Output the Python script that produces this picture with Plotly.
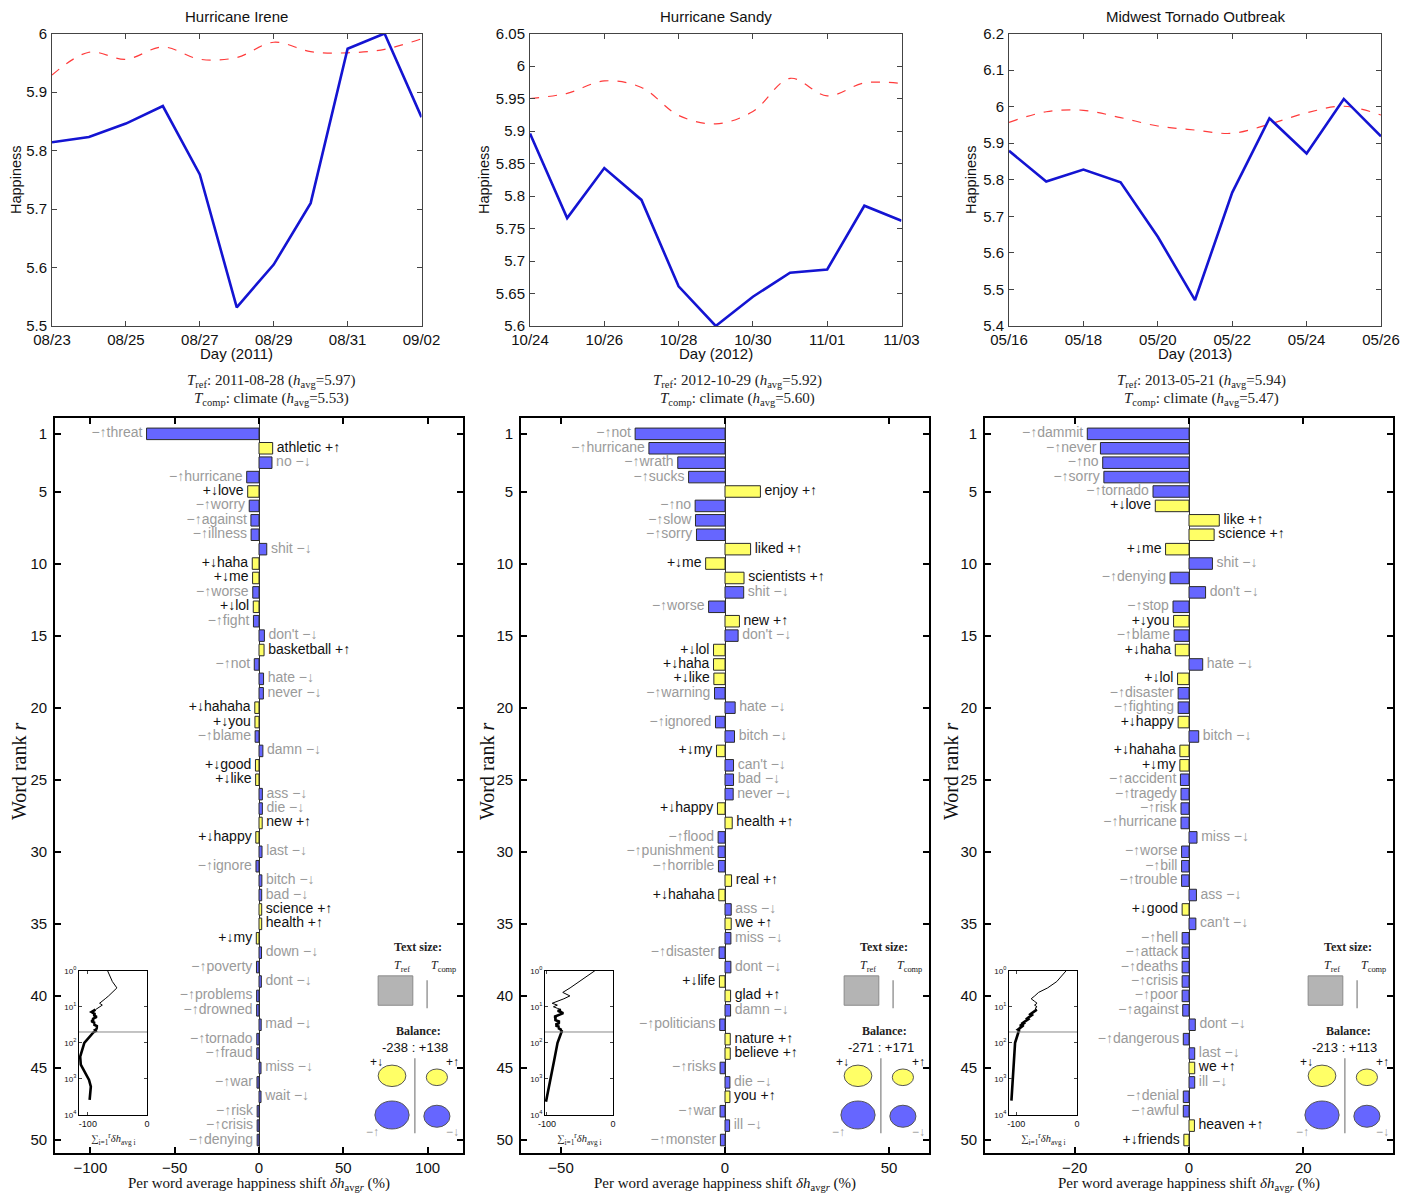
import numpy as np
import plotly.graph_objects as go

# page body has an 8px margin: compensate so reference pixel positions line up
OFF = 8
W, H = 1413 - 2 * OFF, 1202 - 2 * OFF
def px(x): return (x - OFF) / W
def py(y): return 1 - (y - OFF) / H

SANS = "Liberation Sans, Arial, sans-serif"
SERIF = "Liberation Serif, DejaVu Serif, serif"

# ---------------- top row: daily happiness time series ----------------
irene_days = ["2011-08-23", "2011-08-24", "2011-08-25", "2011-08-26", "2011-08-27", "2011-08-28",
              "2011-08-29", "2011-08-30", "2011-08-31", "2011-09-01", "2011-09-02"]
irene_event = [5.814, 5.823, 5.846, 5.876, 5.759, 5.532, 5.605, 5.710, 5.974, 6.000, 5.857]
irene_climate = [5.929, 5.968, 5.956, 5.977, 5.956, 5.959, 5.985, 5.969, 5.967, 5.973, 5.991]

sandy_days = ["2012-10-24", "2012-10-25", "2012-10-26", "2012-10-27", "2012-10-28", "2012-10-29",
              "2012-10-30", "2012-10-31", "2012-11-01", "2012-11-02", "2012-11-03"]
sandy_event = [5.896, 5.766, 5.843, 5.794, 5.661, 5.600, 5.645, 5.682, 5.687, 5.785, 5.762]
sandy_climate = [5.950, 5.958, 5.977, 5.967, 5.924, 5.911, 5.930, 5.981, 5.954, 5.974, 5.973]

tornado_days = ["2013-05-16", "2013-05-17", "2013-05-18", "2013-05-19", "2013-05-20", "2013-05-21",
                "2013-05-22", "2013-05-23", "2013-05-24", "2013-05-25", "2013-05-26"]
tornado_event = [5.879, 5.795, 5.828, 5.793, 5.644, 5.471, 5.765, 5.968, 5.872, 6.021, 5.919]
tornado_climate = [5.957, 5.986, 5.990, 5.970, 5.947, 5.936, 5.927, 5.952, 5.983, 6.001, 5.977]

event_titles = ["Hurricane Irene", "Hurricane Sandy", "Midwest Tornado Outbreak"]
event_years = ["2011", "2012", "2013"]
irene_yticks = [5.5, 5.6, 5.7, 5.8, 5.9, 6.0]
sandy_yticks = [5.6, 5.65, 5.7, 5.75, 5.8, 5.85, 5.9, 5.95, 6.0, 6.05]
tornado_yticks = [5.4, 5.5, 5.6, 5.7, 5.8, 5.9, 6.0, 6.1, 6.2]

# ---------------- bottom row: word shifts ----------------
tref_dates = ["2011-08-28", "2012-10-29", "2013-05-21"]
tref_havg = [5.97, 5.92, 5.94]
tcomp_havg = [5.53, 5.60, 5.47]
balance_neg = [-238, -271, -213]
balance_pos = [138, 171, 113]

irene_words = ["threat", "athletic", "no", "hurricane", "love", "worry", "against", "illness", "shit", "haha",
               "me", "worse", "lol", "fight", "don't", "basketball", "not", "hate", "never", "hahaha",
               "you", "blame", "damn", "good", "like", "ass", "die", "new", "happy", "last",
               "ignore", "bitch", "bad", "science", "health", "my", "down", "poverty", "dont", "problems",
               "drowned", "mad", "tornado", "fraud", "miss", "war", "wait", "risk", "crisis", "denying"]
irene_shift = [-66.7, 8.1, 7.7, -7.3, -6.7, -5.8, -4.8, -4.7, 4.6, -4.0,
               -3.8, -3.7, -3.4, -3.3, 3.2, 3.0, -2.8, 2.7, 2.6, -2.5,
               -2.4, -2.3, 2.3, -2.1, -2.0, 2.0, 2.0, 1.9, -1.9, 1.8,
               -1.8, 1.7, 1.6, 1.6, 1.6, -1.6, 1.5, -1.5, 1.4, -1.4,
               -1.4, 1.3, -1.3, -1.3, 1.2, -1.2, 1.2, -1.1, -1.1, -1.1]
irene_kind = ["-", "+", "-", "-", "+", "-", "-", "-", "-", "+",
              "+", "-", "+", "-", "-", "+", "-", "-", "-", "+",
              "+", "-", "-", "+", "+", "-", "-", "+", "+", "-",
              "-", "-", "-", "+", "+", "+", "-", "-", "-", "-",
              "-", "-", "-", "-", "-", "-", "-", "-", "-", "-"]

sandy_words = ["not", "hurricane", "wrath", "sucks", "enjoy", "no", "slow", "sorry", "liked", "me",
               "scientists", "shit", "worse", "new", "don't", "lol", "haha", "like", "warning", "hate",
               "ignored", "bitch", "my", "can't", "bad", "never", "happy", "health", "flood", "punishment",
               "horrible", "real", "hahaha", "ass", "we", "miss", "disaster", "dont", "life", "glad",
               "damn", "politicians", "nature", "believe", "risks", "die", "you", "war", "ill", "monster"]
sandy_shift = [-27.4, -23.2, -14.4, -11.1, 10.8, -9.1, -9.0, -8.7, 7.8, -5.9,
               5.8, 5.7, -5.0, 4.4, 4.0, -3.5, -3.5, -3.4, -3.2, 3.1,
               -2.9, 2.9, -2.6, 2.6, 2.6, 2.5, -2.3, 2.2, -2.1, -2.1,
               -2.0, 2.0, -1.9, 1.9, 1.9, 1.8, -1.8, 1.8, -1.7, 1.7,
               1.7, -1.6, 1.6, 1.6, -1.5, 1.5, 1.5, -1.5, 1.4, -1.4]
sandy_kind = ["-", "-", "-", "-", "+", "-", "-", "-", "+", "+",
              "+", "-", "-", "+", "-", "+", "+", "+", "-", "-",
              "-", "-", "+", "-", "-", "-", "+", "+", "-", "-",
              "-", "+", "+", "-", "+", "-", "-", "-", "+", "+",
              "-", "-", "+", "+", "-", "-", "+", "-", "-", "-"]

tornado_words = ["dammit", "never", "no", "sorry", "tornado", "love", "like", "science", "me", "shit",
                 "denying", "don't", "stop", "you", "blame", "haha", "hate", "lol", "disaster", "fighting",
                 "happy", "bitch", "hahaha", "my", "accident", "tragedy", "risk", "hurricane", "miss", "worse",
                 "bill", "trouble", "ass", "good", "can't", "hell", "attack", "deaths", "crisis", "poor",
                 "against", "dont", "dangerous", "last", "we", "ill", "denial", "awful", "heaven", "friends"]
tornado_shift = [-17.8, -15.5, -15.1, -14.9, -6.3, -5.9, 5.3, 4.4, -4.1, 4.1,
                 -3.3, 2.9, -2.8, -2.7, -2.6, -2.4, 2.4, -2.0, -1.9, -1.9,
                 -1.9, 1.7, -1.6, -1.6, -1.5, -1.4, -1.4, -1.4, 1.4, -1.3,
                 -1.3, -1.3, 1.3, -1.2, 1.2, -1.2, -1.2, -1.2, -1.2, -1.2,
                 -1.1, 1.1, -1.0, 1.0, 1.0, 1.0, -1.0, -1.0, 0.95, -0.9]
tornado_kind = ["-", "-", "-", "-", "-", "+", "+", "+", "+", "-",
                "-", "-", "-", "+", "-", "+", "-", "+", "-", "-",
                "+", "-", "+", "+", "-", "-", "-", "-", "-", "-",
                "-", "-", "-", "+", "-", "-", "-", "-", "-", "-",
                "-", "-", "-", "-", "+", "-", "-", "-", "+", "+"]

# cumulative-shift inset: tail beyond the top 50 words (rank, cumulative %)
irene_tail_rank = [100, 240, 400, 630, 1070, 1630, 3800]
irene_tail_cum = [-106, -113, -112, -106, -98, -95, -97]
sandy_tail_rank = [100, 300, 1000, 4300]
sandy_tail_cum = [-84, -89, -95, -101.5]
tornado_tail_rank = [100, 300, 1000, 4000]
tornado_tail_cum = [-102, -104, -106, -108]

# ---------------- styling ----------------
BLUE = "#6666ff"
YELLOW = "#ffff66"
GRAY_TXT = "#9a9a9a"
BLACK_TXT = "#111111"
LINE_BLUE = "#1414d2"
LINE_RED = "#ff3b3b"

fig = go.Figure()

top_left = [52, 530, 1009]
top_right = [421.5, 901.5, 1381]
happ_x = [16, 484, 971]
top_y0, top_y1 = 33.5, 326

top_sets = [
    (irene_days, irene_event, irene_climate, irene_yticks),
    (sandy_days, sandy_event, sandy_climate, sandy_yticks),
    (tornado_days, tornado_event, tornado_climate, tornado_yticks),
]

annotations = []
shapes = []

def ptext(x, y, t, size, fam=SANS, col="#111", angle=0):
    annotations.append(dict(x=px(x), y=py(y), xref="paper", yref="paper", text=t,
                            showarrow=False, xanchor="center", yanchor="middle",
                            textangle=angle, font=dict(family=fam, size=size, color=col)))

for i, (days, ev, cl, yt) in enumerate(top_sets):
    n = i + 1
    xa, ya = ("x" if n == 1 else f"x{n}"), ("y" if n == 1 else f"y{n}")
    fig.add_trace(go.Scatter(x=days, y=cl, mode="lines", xaxis=xa, yaxis=ya,
                             line=dict(color=LINE_RED, width=1.2, dash="dash", shape="spline"),
                             showlegend=False, hoverinfo="skip"))
    fig.add_trace(go.Scatter(x=days, y=ev, mode="lines", xaxis=xa, yaxis=ya,
                             line=dict(color=LINE_BLUE, width=2.6),
                             showlegend=False, hoverinfo="skip"))
    axis_common = dict(showline=True, linecolor="#444", linewidth=1, mirror="ticks",
                       ticks="inside", ticklen=5, tickcolor="#444", showgrid=False,
                       zeroline=False, automargin=False,
                       tickfont=dict(family=SANS, size=15, color="#111"))
    fig.update_layout(**{
        ("xaxis" if n == 1 else f"xaxis{n}"): dict(
            domain=[px(top_left[i]), px(top_right[i])], anchor=ya, type="date",
            range=[days[0], days[-1]], tick0=days[0], dtick=2 * 86400000,
            tickformat="%m/%d", ticklabelstandoff=0, **axis_common),
        ("yaxis" if n == 1 else f"yaxis{n}"): dict(
            domain=[py(top_y1), py(top_y0)], anchor=xa,
            range=[yt[0], yt[-1]], tickvals=yt, ticktext=[f"{v:g}" for v in yt],
            ticklabelstandoff=1, **axis_common),
    })
    cx = (top_left[i] + top_right[i]) / 2
    ptext(cx, 17, event_titles[i], 15)
    ptext(cx, 353, f"Day ({event_years[i]})", 15)
    ptext(happ_x[i], 180, "Happiness", 14.5, angle=-90)

# ---------------- word shift panels ----------------
bot_left = [55, 521, 985]
BW = 408
bot_top, bot_bot = 418, 1153
bot_xrange = [[-121, 121], [-62.2, 62.2], [-35.7, 35.7]]
bot_xticks = [[-100, -50, 0, 50, 100], [-50, 0, 50], [-20, 0, 20]]
rank_x = [19, 487, 951]
inset_xrange = [[-115, 0], [-103, 0], [-112, 0]]

shift_sets = [
    (irene_words, irene_shift, irene_kind, irene_tail_rank, irene_tail_cum),
    (sandy_words, sandy_shift, sandy_kind, sandy_tail_rank, sandy_tail_cum),
    (tornado_words, tornado_shift, tornado_kind, tornado_tail_rank, tornado_tail_cum),
]

for i, (words, vals, kinds, tail_r, tail_c) in enumerate(shift_sets):
    n = i + 4
    m = i + 7
    xa, ya = f"x{n}", f"y{n}"
    ranks = list(range(1, len(words) + 1))
    bar_colors = [YELLOW if k == "+" else BLUE for k in kinds]
    fig.add_trace(go.Bar(x=vals, y=ranks, orientation="h", xaxis=xa, yaxis=ya, width=0.8,
                         marker=dict(color=bar_colors, line=dict(color="#2a2a2a", width=1)),
                         showlegend=False, hoverinfo="skip"))
    texts, tcolors, tpos = [], [], []
    for w, v, k in zip(words, vals, kinds):
        if v < 0:
            texts.append(("\u2212\u2191" if k == "-" else "+\u2193") + w)
            tpos.append("middle left")
        else:
            texts.append(w + (" \u2212\u2193" if k == "-" else " +\u2191"))
            tpos.append("middle right")
        tcolors.append(GRAY_TXT if k == "-" else BLACK_TXT)
    fig.add_trace(go.Scatter(x=vals, y=ranks, mode="markers+text", text=texts, textposition=tpos,
                             marker=dict(size=5, opacity=0),
                             textfont=dict(family=SANS, size=14, color=tcolors),
                             xaxis=xa, yaxis=ya, cliponaxis=False,
                             showlegend=False, hoverinfo="skip"))
    L = bot_left[i]
    fig.update_layout(**{
        f"xaxis{n}": dict(domain=[px(L), px(L + BW)], anchor=ya, range=bot_xrange[i],
                          tickvals=bot_xticks[i], showline=True, linecolor="black", linewidth=1.6,
                          mirror="ticks", ticks="inside", ticklen=6, tickwidth=1.5, tickcolor="black",
                          showgrid=False, zeroline=True, zerolinecolor="#333", zerolinewidth=1,
                          automargin=False, tickfont=dict(family=SANS, size=15, color="#111")),
        f"yaxis{n}": dict(domain=[py(bot_bot), py(bot_top)], anchor=xa, range=[50.9, -0.1],
                          tickvals=[1, 5, 10, 15, 20, 25, 30, 35, 40, 45, 50],
                          showline=True, linecolor="black", linewidth=1.6,
                          mirror="ticks", ticks="inside", ticklen=6, tickwidth=1.5, tickcolor="black",
                          showgrid=False, zeroline=False, automargin=False, ticklabelstandoff=3,
                          tickfont=dict(family=SANS, size=15, color="#111")),
    })
    cx = L + BW / 2
    ptext(cx + 12, 381,
          f"<i>T</i><sub>ref</sub>: {tref_dates[i]} (<i>h</i><sub>avg</sub>={tref_havg[i]:.2f})",
          15, SERIF, "#222")
    ptext(cx + 12, 399,
          f"<i>T</i><sub>comp</sub>: climate (<i>h</i><sub>avg</sub>={tcomp_havg[i]:.2f})",
          15, SERIF, "#222")
    ptext(rank_x[i], 772, "Word rank <i>r</i>", 20, SERIF, "#111", angle=-90)
    ptext(cx, 1184, "Per word average happiness shift <i>\u03b4h</i><sub>avg<i>r</i></sub> (%)",
          15, SERIF, "#111")

    # legend-like decorations (in panel domain coordinates)
    xd, yd = f"x{n} domain", f"y{n} domain"
    def dtext(x, y, t, size=12, fam=SERIF, col="#222"):
        annotations.append(dict(x=x, y=y, xref=xd, yref=yd, text=t, showarrow=False,
                                xanchor="center", yanchor="middle",
                                font=dict(family=fam, size=size, color=col)))
    dtext(0.890, 0.280, "<b>Text size:</b>", 12)
    dtext(0.850, 0.255, "<i>T</i><sub>ref</sub>", 12)
    dtext(0.951, 0.255, "<i>T</i><sub>comp</sub>", 12)
    dtext(0.892, 0.166, "<b>Balance:</b>", 12)
    dtext(0.882, 0.143, f"{balance_neg[i]} : +{balance_pos[i]}", 13, SANS, "#111")
    dtext(0.789, 0.124, "+\u2193", 12, SANS, "#111")
    dtext(0.975, 0.124, "+\u2191", 12, SANS, "#111")
    dtext(0.779, 0.028, "\u2212\u2191", 12, SANS, GRAY_TXT)
    dtext(0.975, 0.028, "\u2212\u2193", 12, SANS, GRAY_TXT)
    shapes.append(dict(type="rect", xref=xd, yref=yd, x0=0.792, x1=0.877, y0=0.201, y1=0.241,
                       fillcolor="#b4b4b4", line=dict(color="#8a8a8a", width=1)))
    shapes.append(dict(type="line", xref=xd, yref=yd, x0=0.912, x1=0.912, y0=0.197, y1=0.235,
                       line=dict(color="#9a9a9a", width=1.5)))
    shapes.append(dict(type="line", xref=xd, yref=yd, x0=0.882, x1=0.882, y0=0.027, y1=0.129,
                       line=dict(color="#9a9a9a", width=1.5)))
    for (cxx, cyy, rx, ry, col) in [(0.826, 0.105, 0.034, 0.0146, YELLOW),
                                    (0.936, 0.103, 0.026, 0.0113, YELLOW),
                                    (0.826, 0.0517, 0.042, 0.019, BLUE),
                                    (0.936, 0.050, 0.032, 0.015, BLUE)]:
        shapes.append(dict(type="circle", xref=xd, yref=yd, x0=cxx - rx, x1=cxx + rx,
                           y0=cyy - ry, y1=cyy + ry, fillcolor=col,
                           line=dict(color="#555", width=1)))

    # inset: cumulative sum of shifts versus rank (log)
    cum = list(np.cumsum(vals))
    split = 12
    fig.add_trace(go.Scatter(x=cum[:split], y=ranks[:split], mode="lines",
                             xaxis=f"x{m}", yaxis=f"y{m}", line=dict(color="black", width=1),
                             showlegend=False, hoverinfo="skip"))
    fig.add_trace(go.Scatter(x=cum[split - 1:] + tail_c, y=ranks[split - 1:] + tail_r, mode="lines",
                             xaxis=f"x{m}", yaxis=f"y{m}", line=dict(color="black", width=2.6),
                             showlegend=False, hoverinfo="skip"))
    ix0, ix1 = L + 24, L + 92
    iy0, iy1 = 970.7, 1115
    fig.update_layout(**{
        f"xaxis{m}": dict(domain=[px(ix0), px(ix1)], anchor=f"y{m}", range=inset_xrange[i],
                          tickvals=[-100, 0], ticktext=["-100", "0"], showline=True,
                          linecolor="black", linewidth=1, mirror="ticks", ticks="inside",
                          ticklen=3, showgrid=False, zeroline=False, automargin=False,
                          ticklabelstandoff=0,
                          tickfont=dict(family=SANS, size=9, color="#111")),
        f"yaxis{m}": dict(domain=[py(iy1), py(iy0)], anchor=f"x{m}", type="log", range=[4, 0],
                          tickvals=[1, 10, 100, 1000, 10000],
                          ticktext=["10<sup>0</sup>", "10<sup>1</sup>", "10<sup>2</sup>",
                                    "10<sup>3</sup>", "10<sup>4</sup>"],
                          showline=True, linecolor="black", linewidth=1, mirror="ticks",
                          ticks="inside", ticklen=3, showgrid=False, zeroline=False,
                          automargin=False, tickfont=dict(family=SANS, size=8, color="#111")),
    })
    shapes.append(dict(type="line", xref=f"x{m} domain", yref=f"y{m}", x0=0, x1=1,
                       y0=len(words), y1=len(words),
                       line=dict(color="#888", width=1)))
    ptext((ix0 + ix1) / 2, 1139,
          "\u2211<sub>i=1</sub><sup>r</sup><i>\u03b4h</i><sub>avg i</sub>", 10.5, SERIF, "#222")

fig.update_layout(width=W, height=H, margin=dict(l=0, r=0, t=0, b=0),
                  paper_bgcolor="white", plot_bgcolor="white", template="none",
                  showlegend=False, barmode="overlay",
                  annotations=annotations, shapes=shapes)

fig.write_html("out.html")
